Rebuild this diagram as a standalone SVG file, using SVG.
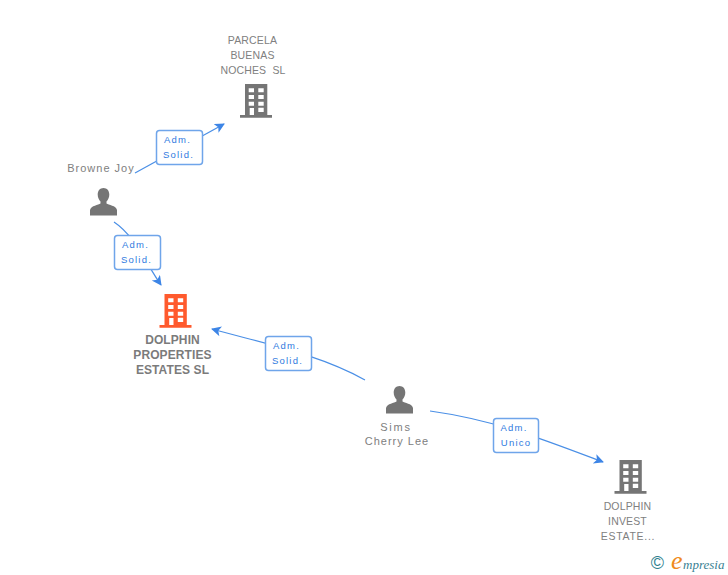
<svg xmlns="http://www.w3.org/2000/svg" width="728" height="575" viewBox="0 0 728 575">
<style>
.n{font-family:"Liberation Sans",Arial,sans-serif;font-size:11px;letter-spacing:1px;fill:#808080;text-anchor:middle}
.u{font-size:10.5px;letter-spacing:.15px}
.b{font-weight:bold;font-size:12px;letter-spacing:.1px;fill:#7b7b7b}
.l{font-family:"Liberation Sans",Arial,sans-serif;font-size:9.5px;letter-spacing:1.2px;fill:#2f7ae0;text-anchor:middle}
.c{fill:none;stroke:#4a8fe6;stroke-width:1.2}
.box{fill:#fff;stroke:#6fa5ea;stroke-width:1.5}
</style>
<defs>
<marker id="a" markerUnits="userSpaceOnUse" markerWidth="12" markerHeight="12" refX="9" refY="5" orient="auto"><path d="M0 0L10 5L0 10L2.500 5Z" fill="#3d85e6"/></marker>
<symbol id="bld" width="32" height="34" viewBox="0 0 32 34" overflow="visible"><path fill-rule="evenodd" d="M5 0H27.300V31H32V33.700H0V31H5ZM8.700 4.300V8.300H14V4.300ZM18.300 4.300V8.300H23.700V4.300ZM8.700 11V15H14V11ZM18.300 11V15H23.700V11ZM8.700 17.700V21.700H14V17.700ZM18.300 17.700V21.700H23.700V17.700ZM9.700 24V31H14V24ZM18.300 23.700V28H23.700V23.700Z"/></symbol>
<symbol id="per" width="27" height="28" viewBox="0 0 27 28" overflow="visible"><path d="M13.500 0C17 0 19.300 2.800 19.300 6.500C19.300 9.500 18 12 16.500 13.500V15.500C18.500 17 26 17.500 27 22V27.500H0V22C1 17.500 8.500 17 10.500 15.500V13.500C9 12 7.700 9.500 7.700 6.500C7.700 2.800 10 0 13.500 0Z"/></symbol>
</defs>
<g id="connectors">
<path class="c" d="M135 173L224 124" marker-end="url(#a)"/>
<path class="c" d="M114 222C135 236 145 262 161 285" marker-end="url(#a)"/>
<path class="c" d="M365 380C320 355 270 345 212 329" marker-end="url(#a)"/>
<path class="c" d="M430 411C495 420 545 440 603 462" marker-end="url(#a)"/>
</g>
<g id="node-parcela">
<text class="n u" x="252.500" y="44">PARCELA</text><text class="n u" x="252.500" y="59">BUENAS</text><text class="n u" x="253" y="74">NOCHES&#160;&#160;SL</text>
<use href="#bld" x="240" y="84" fill="#757575"/>
</g>
<g id="node-browne">
<text class="n" x="101" y="172">Browne Joy</text>
<use href="#per" x="90" y="188" fill="#757575"/>
</g>
<g id="node-dolphin-properties">
<use href="#bld" x="159.500" y="294" fill="#ff5a2d"/>
<text class="n b" x="172.500" y="344">DOLPHIN</text><text class="n b" x="172.500" y="359">PROPERTIES</text><text class="n b" x="172.500" y="374">ESTATES SL</text>
</g>
<g id="node-sims">
<use href="#per" x="386" y="386" fill="#757575"/>
<text class="n" x="396" y="431" style="letter-spacing:1.800px">Sims</text><text class="n" x="397" y="445">Cherry Lee</text>
</g>
<g id="node-dolphin-invest">
<use href="#bld" x="614.500" y="460" fill="#757575"/>
<text class="n u" x="627.500" y="510">DOLPHIN</text><text class="n u" x="627.500" y="525">INVEST</text><text class="n u" x="628" y="540" style="letter-spacing:.7px">ESTATE...</text>
</g>
<g id="label-1"><rect class="box" x="156.500" y="130.500" width="46" height="34" rx="3"/><text class="l" x="177.500" y="143">Adm.</text><text class="l" x="178.500" y="158">Solid.</text></g>
<g id="label-2"><rect class="box" x="114.500" y="235.500" width="46" height="34" rx="3"/><text class="l" x="135.500" y="248">Adm.</text><text class="l" x="136.500" y="263">Solid.</text></g>
<g id="label-3"><rect class="box" x="265.500" y="336.500" width="46" height="34" rx="3"/><text class="l" x="286.500" y="349">Adm.</text><text class="l" x="287.500" y="364">Solid.</text></g>
<g id="label-4"><rect class="box" x="493.500" y="418.500" width="45" height="34" rx="3"/><text class="l" x="514" y="431">Adm.</text><text class="l" x="516" y="446">Unico</text></g>
<g id="logo">
<text x="657.500" y="569" font-family="'Liberation Sans',sans-serif" font-size="18" fill="#2f7f8f" text-anchor="middle">©</text>
<text x="671" y="569" font-family="'Liberation Serif',serif" font-style="italic" font-size="26" fill="#ef8a1d">e</text>
<text x="683" y="569" font-family="'Liberation Serif',serif" font-style="italic" font-size="13" fill="#3a7f93">mpresia</text>
</g>
</svg>
